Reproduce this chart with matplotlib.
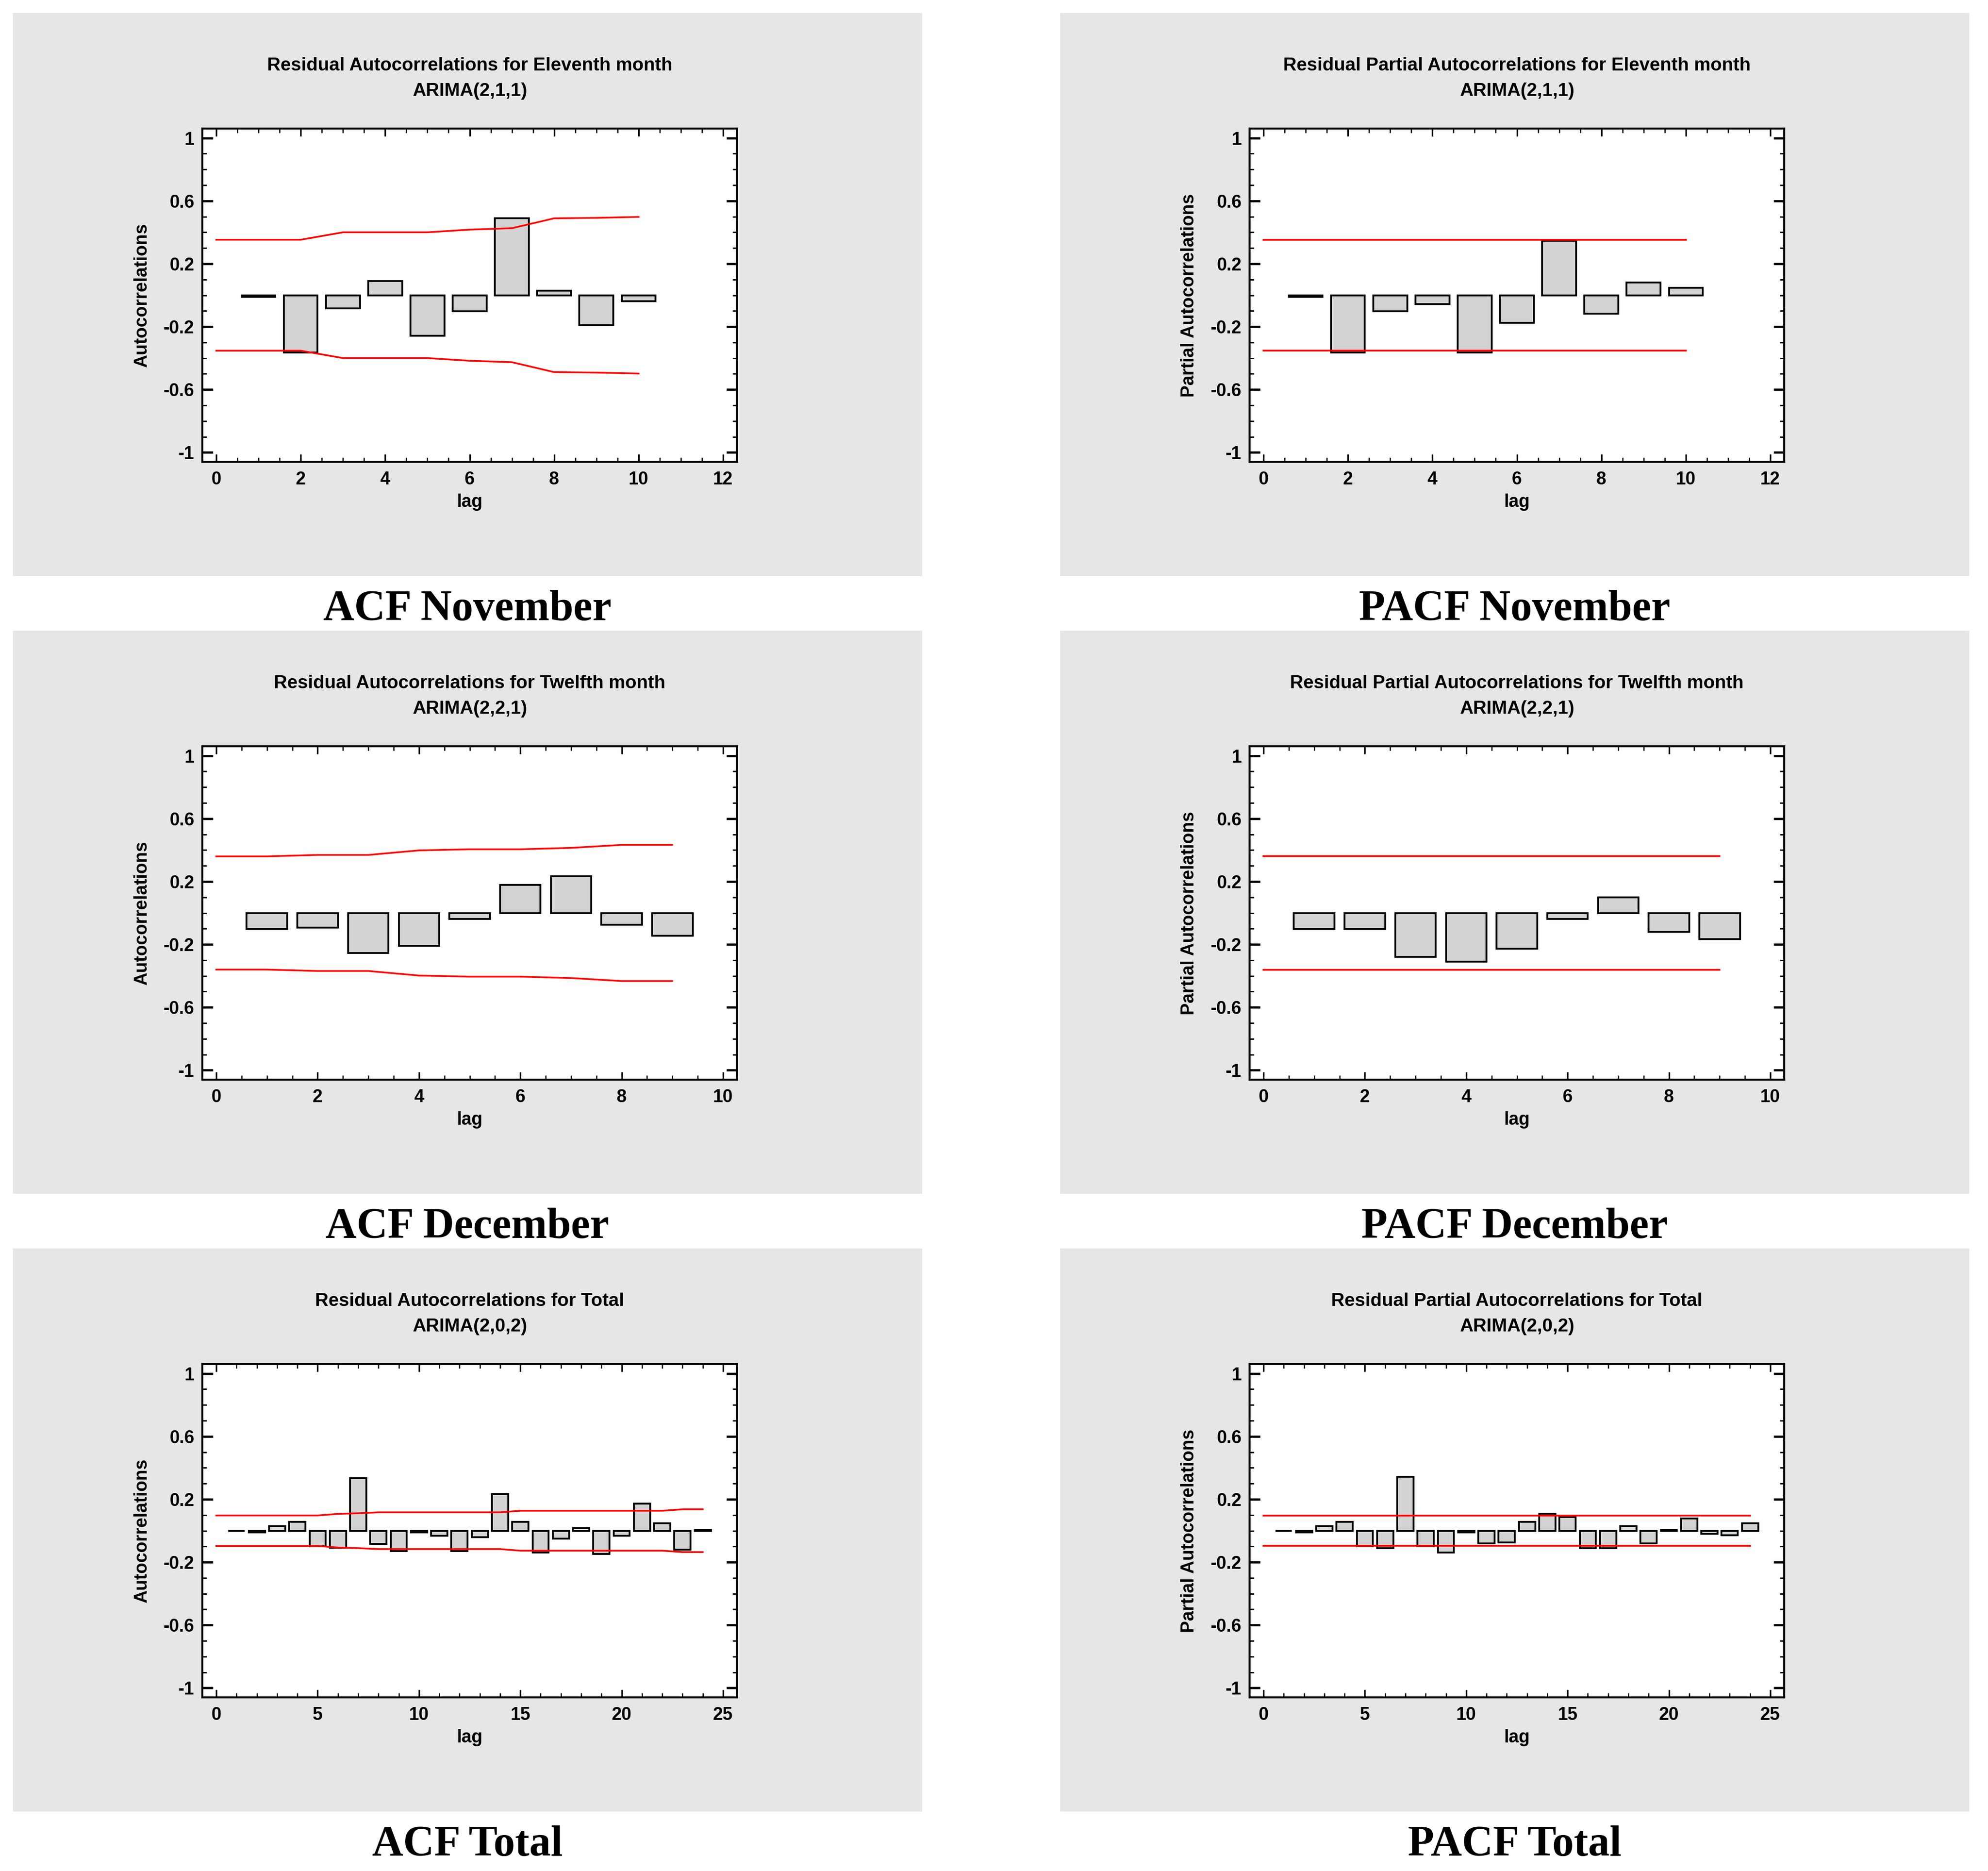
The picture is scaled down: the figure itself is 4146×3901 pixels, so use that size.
import numpy as np
import matplotlib
matplotlib.use("Agg")

import matplotlib.pyplot as plt
from matplotlib.patches import Rectangle
from matplotlib.ticker import FixedLocator, MultipleLocator, FuncFormatter

W, H, DPI = 4146, 3901, 300

SANS = ["Liberation Sans", "DejaVu Sans"]
SERIF = ["Liberation Serif", "DejaVu Serif"]

# residual autocorrelations, lags 1..n
ACF_NOV = [-0.01, -0.365, -0.085, 0.091, -0.258, -0.102, 0.49, 0.028, -0.192, -0.038]
ACF_NOV_LIMIT = [0.353, 0.353, 0.353, 0.400, 0.400, 0.400, 0.417, 0.426, 0.489, 0.492, 0.498]
PACF_NOV = [-0.01, -0.365, -0.102, -0.055, -0.365, -0.176, 0.345, -0.118, 0.082, 0.046]
PACF_NOV_LIMIT = 0.353

ACF_DEC = [-0.102, -0.093, -0.255, -0.21, -0.038, 0.179, 0.233, -0.074, -0.146]
ACF_DEC_LIMIT = [0.36, 0.36, 0.369, 0.369, 0.398, 0.405, 0.405, 0.414, 0.433, 0.433]
PACF_DEC = [-0.102, -0.102, -0.28, -0.31, -0.227, -0.038, 0.099, -0.121, -0.166]
PACF_DEC_LIMIT = 0.36

ACF_TOTAL = [0.0, -0.01, 0.028, 0.057, -0.098, -0.109, 0.333, -0.084, -0.13, -0.012,
             -0.031, -0.13, -0.04, 0.234, 0.057, -0.139, -0.049, 0.018, -0.148, -0.031,
             0.171, 0.046, -0.12, 0.005]
ACF_TOTAL_LIMIT = [0.097, 0.097, 0.097, 0.097, 0.097, 0.097, 0.107, 0.111, 0.117, 0.117,
                   0.117, 0.117, 0.117, 0.117, 0.117, 0.127, 0.127, 0.127, 0.127, 0.127,
                   0.127, 0.127, 0.127, 0.136, 0.136]
PACF_TOTAL = [0.0, -0.01, 0.028, 0.057, -0.1, -0.11, 0.343, -0.1, -0.139, -0.012,
              -0.082, -0.076, 0.055, 0.108, 0.088, -0.11, -0.11, 0.028, -0.082, 0.005,
              0.079, -0.02, -0.029, 0.046]
PACF_TOTAL_LIMIT = 0.097

Y_TICKS = [-1, -0.6, -0.2, 0.2, 0.6, 1]

PANELS = [
    ("Residual Autocorrelations for Eleventh month", "ARIMA(2,1,1)", "Autocorrelations",
     ACF_NOV, ACF_NOV_LIMIT, 12, 2, 0.5, "ACF November"),
    ("Residual Partial Autocorrelations for Eleventh month", "ARIMA(2,1,1)", "Partial Autocorrelations",
     PACF_NOV, PACF_NOV_LIMIT, 12, 2, 0.5, "PACF November"),
    ("Residual Autocorrelations for Twelfth month", "ARIMA(2,2,1)", "Autocorrelations",
     ACF_DEC, ACF_DEC_LIMIT, 10, 2, 0.5, "ACF December"),
    ("Residual Partial Autocorrelations for Twelfth month", "ARIMA(2,2,1)", "Partial Autocorrelations",
     PACF_DEC, PACF_DEC_LIMIT, 10, 2, 0.5, "PACF December"),
    ("Residual Autocorrelations for Total", "ARIMA(2,0,2)", "Autocorrelations",
     ACF_TOTAL, ACF_TOTAL_LIMIT, 25, 5, 1, "ACF Total"),
    ("Residual Partial Autocorrelations for Total", "ARIMA(2,0,2)", "Partial Autocorrelations",
     PACF_TOTAL, PACF_TOTAL_LIMIT, 25, 5, 1, "PACF Total"),
]

# layout in pixels (from top-left)
COL_X = [27, 2211]
ROW_Y = [27, 1315, 2603]
PANEL_W, PANEL_H = 1896, 1174
AX_DX, AX_DY, AX_W, AX_H = 395, 241, 1115, 695


def fx(x):
    return x / W


def fy(y):
    return 1 - y / H


def draw_panel(fig, px, py, spec):
    title, model, ylabel, values, limit, xmax, major, minor, caption = spec

    fig.patches.append(Rectangle((fx(px), fy(py + PANEL_H)), PANEL_W / W, PANEL_H / H,
                                 transform=fig.transFigure, facecolor="#e6e6e6",
                                 edgecolor="none", zorder=-5))

    ax_left, ax_top = px + AX_DX, py + AX_DY
    ax = fig.add_axes([fx(ax_left), fy(ax_top + AX_H), AX_W / W, AX_H / H])
    ax.set_facecolor("white")

    lags = np.arange(1, len(values) + 1)
    ax.bar(lags, values, width=0.8, color="#d3d3d3", edgecolor="black", linewidth=0.9, zorder=2)

    lim_x = np.arange(0, len(values) + 1)
    lim = np.asarray(limit, dtype=float)
    if lim.ndim == 0:
        lim = np.full(len(lim_x), float(lim))
    ax.plot(lim_x, lim, color="red", lw=0.85, zorder=3)
    ax.plot(lim_x, -lim, color="red", lw=0.85, zorder=3)

    pad = xmax * 0.0275
    ax.set_xlim(-pad, xmax + pad)
    ax.set_ylim(-1.06, 1.06)

    ax.yaxis.set_major_locator(FixedLocator(Y_TICKS))
    ax.yaxis.set_minor_locator(MultipleLocator(0.1))
    ax.yaxis.set_major_formatter(FuncFormatter(lambda v, _: f"{round(v, 2):g}"))
    ax.xaxis.set_major_locator(MultipleLocator(major))
    ax.xaxis.set_minor_locator(MultipleLocator(minor))
    ax.xaxis.set_major_formatter(FuncFormatter(lambda v, _: f"{v:g}"))

    ax.tick_params(which="both", direction="in", top=True, right=True, colors="black")
    ax.tick_params(axis="y", which="major", length=5.3, width=1.1, pad=4)
    ax.tick_params(axis="y", which="minor", length=2.2, width=0.7)
    ax.tick_params(axis="x", which="major", length=3.9, width=0.8, pad=4.5)
    ax.tick_params(axis="x", which="minor", length=2.2, width=0.6)
    for lbl in ax.get_xticklabels() + ax.get_yticklabels():
        lbl.set_fontfamily(SANS)
        lbl.set_fontweight("bold")
        lbl.set_fontsize(9)
    for spine in ax.spines.values():
        spine.set_linewidth(1.0)
        spine.set_color("black")

    ax.text(-0.113, 0.5, ylabel, transform=ax.transAxes, rotation=90, ha="center", va="center",
            fontsize=9, fontweight="bold", family=SANS)
    ax.text(0.5, -0.121, "lag", transform=ax.transAxes, ha="center", va="center",
            fontsize=9, fontweight="bold", family=SANS)

    cx = fx(ax_left + AX_W / 2)
    fig.text(cx, fy(ax_top - 131), title, ha="center", va="center",
             fontsize=9.3, fontweight="bold", family=SANS)
    fig.text(cx, fy(ax_top - 78), model, ha="center", va="center",
             fontsize=9.3, fontweight="bold", family=SANS)

    fig.text(fx(px + PANEL_W / 2), fy(py + PANEL_H + 70), caption, ha="center", va="center",
             fontsize=21.5, fontweight="bold", family=SERIF)


def main():
    fig = plt.figure(figsize=(W / DPI, H / DPI), dpi=DPI, facecolor="white")
    for i, spec in enumerate(PANELS):
        row, col = divmod(i, 2)
        draw_panel(fig, COL_X[col], ROW_Y[row], spec)
    fig.savefig("out.png", dpi=DPI, facecolor="white")
    plt.close(fig)


if __name__ == "__main__":
    main()
